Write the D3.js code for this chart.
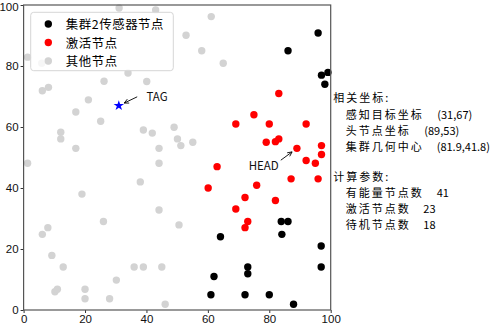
<!DOCTYPE html>
<html>
<head>
<meta charset="utf-8">
<script src="https://cdn.jsdelivr.net/npm/d3@7"></script>
<style>
	body { margin: 0; background: #fff; }
	text { font-family: "Noto Sans CJK SC", "DejaVu Sans", sans-serif; fill: #000; }
</style>
</head>
<body>
<div id="viz"></div>
<script>

// cluster 2 sensor nodes (black)
var clusterNodes = [
	[95.9, 90.8], [86.1, 85.0], [97.0, 77.0], [99.1, 77.9], [98.1, 74.0],
	[83.9, 29.0], [86.1, 29.0], [84.1, 24.8], [64.1, 24.0], [96.9, 21.0],
	[96.9, 14.1], [73.0, 14.1], [73.0, 11.9], [62.0, 11.0], [61.0, 5.0],
	[72.1, 5.0], [80.0, 5.0], [87.9, 1.9]
];

// active nodes (red)
var activeNodes = [
	[83.1, 71.0], [75.0, 64.0], [69.1, 61.0], [80.0, 61.0], [92.0, 61.0],
	[79.0, 55.0], [82.0, 55.2], [83.1, 56.1], [89.0, 53.0], [97.0, 53.9],
	[97.0, 51.0], [92.0, 49.0], [95.0, 48.1], [63.0, 47.0], [60.1, 40.0],
	[75.9, 40.9], [87.1, 43.0], [95.9, 43.0], [72.1, 36.9], [82.0, 35.9],
	[69.1, 33.1], [73.0, 29.0], [72.1, 27.0]
];

// all other nodes (light gray)
var otherNodes = [
	[31.1, 99.0], [43.0, 98.4], [1.3, 82.9], [5.9, 80.9], [8.0, 81.6],
	[26.2, 75.0], [34.0, 77.7], [40.1, 74.9], [6.1, 71.9], [8.1, 73.0],
	[21.1, 68.9], [17.0, 64.9], [25.1, 61.9], [39.0, 59.0], [41.9, 58.0],
	[49.0, 59.9], [50.1, 56.1], [51.2, 53.9], [55.1, 55.0], [12.1, 58.3],
	[12.1, 56.1], [17.0, 53.0], [44.1, 53.0], [1.3, 48.1], [44.1, 48.1],
	[38.0, 42.0], [19.0, 38.0], [44.1, 32.8], [26.0, 29.0], [50.6, 27.9],
	[7.9, 27.0], [6.1, 24.8], [9.2, 17.9], [12.9, 14.1], [36.0, 14.1],
	[39.0, 14.1], [45.0, 14.1], [30.2, 9.8], [10.2, 6.0], [11.0, 6.8],
	[20.0, 6.8], [20.0, 3.7], [28.0, 3.7], [46.1, 1.9], [61.1, 96.2],
	[52.9, 90.1], [58.0, 85.0], [65.0, 80.9]
];

var tagPos = [31, 67];
var headPos = [89, 53];
var centroid = [81.9, 41.8];
var counts = [41, 23, 18];

var xTicks = [0, 20, 40, 60, 80, 100];
var yTicks = [0, 20, 40, 60, 80, 100];
var legendLabels = ["集群2传感器节点", "激活节点", "其他节点"];

var w = 495, h = 326;
var margin = {top: 5, right: 164.3, bottom: 16, left: 23.6};

var x = d3.scaleLinear().domain([0, 100]).range([margin.left, w - margin.right]);
var y = d3.scaleLinear().domain([0, 100]).range([h - margin.bottom, margin.top]);

var svg = d3.select("#viz").append("svg")
	.attr("width", w)
	.attr("height", h);

function dots(data, color) {
	svg.append("g").selectAll("circle")
		.data(data)
		.enter()
		.append("circle")
		.attr("cx", d => x(d[0]))
		.attr("cy", d => y(d[1]))
		.attr("r", 3.7)
		.style("fill", color);
}

// gray first so coloured ones sit on top
dots(otherNodes, "#d3d3d3");
dots(activeNodes, "#ff0000");
dots(clusterNodes, "#000");

// target star
svg.append("path")
	.attr("d", d3.symbol().type(d3.symbolStar).size(34)())
	.attr("transform", "translate(" + x(tagPos[0]) + "," + y(tagPos[1]) + ")")
	.style("fill", "#0000ff");

// annotations with "->" arrows
function annotate(label, pt, tx, ty, anchor, sx, sy) {
	var px = x(pt[0]), py = y(pt[1]);
	svg.append("text")
		.attr("x", tx)
		.attr("y", ty)
		.attr("text-anchor", anchor)
		.attr("dominant-baseline", "central")
		.style("font-size", "11.5px")
		.style("fill", "#111")
		.text(label);
	var dx = px - sx, dy = py - sy, len = Math.sqrt(dx * dx + dy * dy);
	var ux = dx / len, uy = dy / len;
	var ex = px - ux * 6, ey = py - uy * 6;
	// head: two short strokes back from the tip
	var a = Math.PI / 7, hl = 5;
	var back = Math.atan2(-uy, -ux);
	svg.append("path")
		.attr("d", "M" + sx + "," + sy + "L" + ex + "," + ey +
			"M" + (ex + hl * Math.cos(back + a)) + "," + (ey + hl * Math.sin(back + a)) +
			"L" + ex + "," + ey +
			"L" + (ex + hl * Math.cos(back - a)) + "," + (ey + hl * Math.sin(back - a)))
		.style("fill", "none")
		.style("stroke", "#000")
		.style("stroke-width", 0.9);
}

annotate("TAG", tagPos, 146.4, 96.2, "start", 137.2, 96.8);
annotate("HEAD", headPos, 278.7, 165, "end", 280.8, 160.2);

// axes
var xAxis = svg.append("g")
	.attr("transform", "translate(0," + y(0) + ")")
	.call(d3.axisBottom(x).tickValues(xTicks).tickSize(3).tickPadding(2));
var yAxis = svg.append("g")
	.attr("transform", "translate(" + x(0) + ",0)")
	.call(d3.axisLeft(y).tickValues(yTicks).tickSize(3).tickPadding(2));
[xAxis, yAxis].forEach(function(g) {
	g.select(".domain").remove();
	g.selectAll("line").style("stroke", "#333");
	g.selectAll("text")
		.style("font-size", "11.5px")
		.style("font-family", "'Liberation Sans', Arial, sans-serif")
		.style("fill", "#111");
});
// top label sits on the edge; nudge it down a touch
yAxis.selectAll("text").filter(d => d === 100).attr("dy", "0.5em");

// frame
svg.append("rect")
	.attr("x", x(0))
	.attr("y", y(100))
	.attr("width", x(100) - x(0))
	.attr("height", y(0) - y(100))
	.style("fill", "none")
	.style("stroke", "#555")
	.style("stroke-width", 1.2);

// legend
var legend = svg.append("g");
legend.append("rect")
	.attr("x", 30.7).attr("y", 12.3)
	.attr("width", 142.6).attr("height", 58.4)
	.attr("rx", 3)
	.style("fill", "#fff")
	.style("fill-opacity", 0.8)
	.style("stroke", "#d6d6d6");
var legendColors = ["#000", "#ff0000", "#d3d3d3"];
legendLabels.forEach(function(t, i) {
	var ly = 24 + i * 18.5;
	legend.append("circle")
		.attr("cx", 48.3).attr("cy", ly).attr("r", 3.7)
		.style("fill", legendColors[i]);
	legend.append("text")
		.attr("x", 65.7).attr("y", ly)
		.attr("dominant-baseline", "central")
		.style("font-size", "12.4px")
		.style("letter-spacing", "0.6px")
		.text(t);
});

// info text on the right
var info = [
	{x: 333.3, y: 97.3, t: "相关坐标:"},
	{x: 345.7, y: 114, t: "感知目标坐标"},
	{x: 437.3, y: 114, t: "(" + tagPos.join(",") + ")"},
	{x: 345.7, y: 130, t: "头节点坐标"},
	{x: 424.3, y: 130, t: "(" + headPos.join(",") + ")"},
	{x: 345.7, y: 146, t: "集群几何中心"},
	{x: 436.7, y: 146, t: "(" + centroid.join(",") + ")"},
	{x: 333.3, y: 176, t: "计算参数:"},
	{x: 345.7, y: 192.3, t: "有能量节点数"},
	{x: 436.7, y: 192.3, t: counts[0]},
	{x: 345.7, y: 208.3, t: "激活节点数"},
	{x: 423.3, y: 208.3, t: counts[1]},
	{x: 345.7, y: 224.3, t: "待机节点数"},
	{x: 423.3, y: 224.3, t: counts[2]}
];
var isNum = d => typeof d.t === "number" || d.t[0] === "(";
svg.append("g").selectAll("text")
	.data(info)
	.enter()
	.append("text")
	.attr("x", d => d.x)
	.attr("y", d => d.y)
	.attr("dominant-baseline", "central")
	.style("font-size", "11px")
	.style("letter-spacing", d => isNum(d) ? "0px" : "2px")
	.text(d => d.t);

</script>
</body>
</html>
